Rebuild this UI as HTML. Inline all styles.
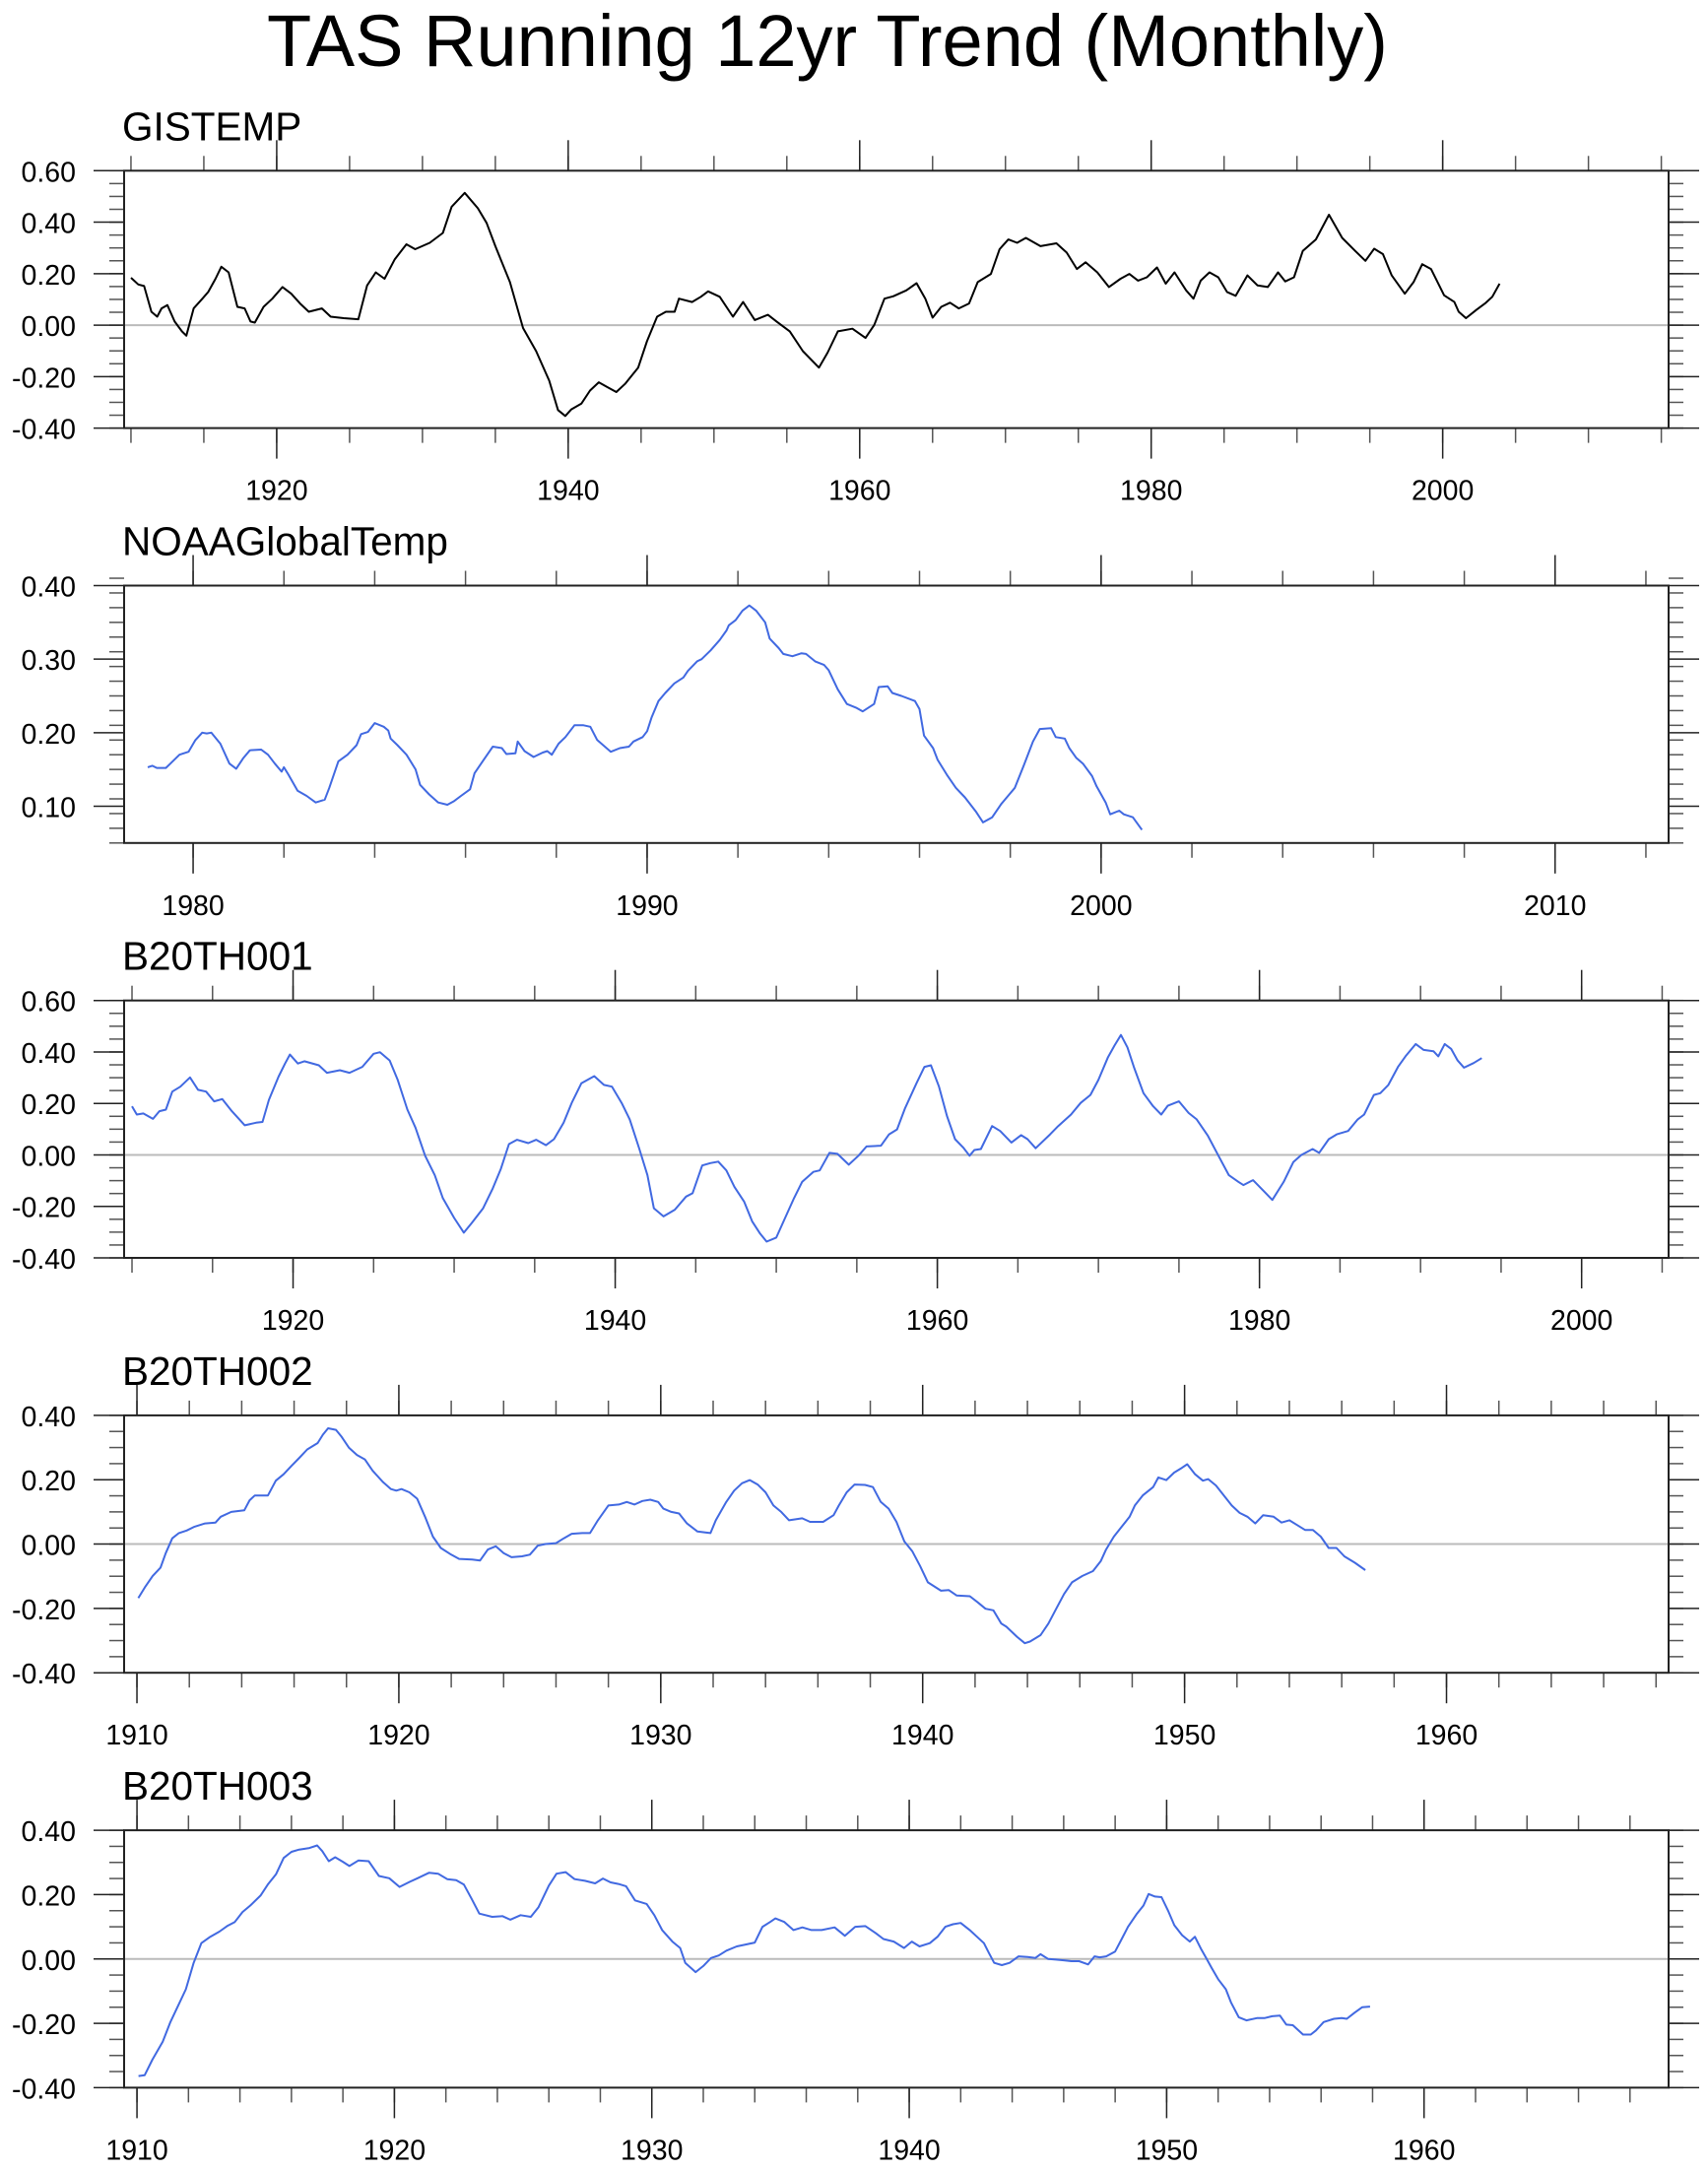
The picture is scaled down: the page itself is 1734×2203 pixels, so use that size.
<!DOCTYPE html>
<html><head><meta charset="utf-8"><title>TAS Running 12yr Trend (Monthly)</title>
<style>
html,body{margin:0;padding:0;background:#fff;}
svg{display:block;font-family:"Liberation Sans",Arial,sans-serif;}
</style></head>
<body>
<svg id="chart" width="1734" height="2203" viewBox="0 0 1734 2203" xmlns="http://www.w3.org/2000/svg">
<text x="840" y="67" font-size="74" text-anchor="middle" fill="#000">TAS Running 12yr Trend (Monthly)</text>
</svg>
<script>
// ---- data ----
const gisYears=[1910.0,1910.5,1910.9,1911.4,1911.8,1912.1,1912.5,1913.0,1913.5,1913.8,1914.3,1914.9,1915.3,1915.8,1916.2,1916.7,1917.3,1917.8,1918.2,1918.5,1919.1,1919.7,1920.4,1921.0,1921.6,1922.2,1923.1,1923.7,1924.6,1925.6,1926.2,1926.8,1927.4,1928.1,1928.9,1929.5,1930.5,1931.4,1932.0,1932.9,1933.8,1934.4,1935.0,1936.0,1936.9,1937.8,1938.7,1939.3,1939.8,1940.2,1940.9,1941.5,1942.1,1942.7,1943.3,1943.9,1944.8,1945.4,1946.1,1946.7,1947.3,1947.6,1948.5,1949.1,1949.6,1950.4,1951.3,1952.0,1952.8,1953.7,1954.3,1955.2,1956.1,1957.2,1957.8,1958.5,1959.5,1960.4,1961.0,1961.7,1962.3,1963.2,1963.9,1964.5,1965.0,1965.6,1966.2,1966.8,1967.5,1968.1,1969.0,1969.6,1970.2,1970.8,1971.4,1972.4,1973.5,1974.2,1974.9,1975.5,1976.3,1977.1,1977.9,1978.5,1979.1,1979.7,1980.4,1981.0,1981.6,1982.4,1982.9,1983.4,1984.0,1984.6,1985.2,1985.8,1986.6,1987.3,1988.0,1988.7,1989.2,1989.8,1990.4,1991.3,1992.2,1993.1,1994.0,1994.7,1995.3,1995.9,1996.5,1997.4,1998.0,1998.6,1999.2,2000.1,2000.8,2001.1,2001.6,2002.3,2002.9,2003.4,2003.9];
const gisVals=[0.184,0.158,0.152,0.052,0.033,0.065,0.078,0.014,-0.024,-0.041,0.065,0.103,0.129,0.18,0.227,0.205,0.071,0.065,0.014,0.01,0.071,0.103,0.148,0.122,0.084,0.052,0.065,0.033,0.027,0.023,0.154,0.205,0.18,0.256,0.314,0.295,0.32,0.358,0.46,0.514,0.454,0.397,0.307,0.167,-0.011,-0.101,-0.216,-0.33,-0.353,-0.328,-0.305,-0.254,-0.222,-0.241,-0.26,-0.228,-0.165,-0.063,0.033,0.052,0.052,0.103,0.09,0.11,0.131,0.11,0.033,0.09,0.02,0.04,0.014,-0.024,-0.101,-0.165,-0.107,-0.024,-0.014,-0.05,0.001,0.103,0.112,0.135,0.163,0.103,0.029,0.071,0.087,0.065,0.084,0.167,0.199,0.295,0.333,0.32,0.339,0.307,0.318,0.282,0.218,0.244,0.205,0.148,0.18,0.199,0.173,0.186,0.224,0.161,0.205,0.135,0.103,0.173,0.205,0.186,0.129,0.114,0.193,0.154,0.148,0.205,0.17,0.186,0.288,0.333,0.429,0.339,0.288,0.25,0.297,0.276,0.193,0.122,0.167,0.237,0.218,0.116,0.09,0.052,0.027,0.059,0.084,0.11,0.161];

const noaaYears=[1979.0,1979.1,1979.2,1979.4,1979.5,1979.7,1979.9,1980.05,1980.2,1980.3,1980.4,1980.6,1980.8,1980.95,1981.1,1981.25,1981.5,1981.65,1981.8,1981.95,1982.0,1982.1,1982.3,1982.5,1982.7,1982.9,1983.0,1983.2,1983.4,1983.6,1983.7,1983.85,1984.0,1984.2,1984.3,1984.35,1984.5,1984.7,1984.9,1985.0,1985.2,1985.4,1985.6,1985.75,1985.9,1986.1,1986.2,1986.4,1986.6,1986.8,1986.9,1987.1,1987.15,1987.3,1987.5,1987.7,1987.8,1987.9,1988.05,1988.2,1988.4,1988.6,1988.75,1988.9,1989.2,1989.4,1989.6,1989.7,1989.9,1990.0,1990.1,1990.25,1990.4,1990.6,1990.8,1990.9,1991.1,1991.2,1991.4,1991.6,1991.75,1991.8,1991.95,1992.1,1992.25,1992.4,1992.6,1992.7,1992.9,1993.0,1993.2,1993.4,1993.5,1993.7,1993.9,1994.0,1994.2,1994.4,1994.6,1994.75,1995.0,1995.1,1995.3,1995.4,1995.6,1995.9,1996.0,1996.1,1996.3,1996.4,1996.6,1996.8,1997.0,1997.25,1997.4,1997.6,1997.8,1997.95,1998.1,1998.3,1998.5,1998.65,1998.9,1999.0,1999.2,1999.3,1999.45,1999.6,1999.8,1999.9,2000.1,2000.2,2000.4,2000.5,2000.7,2000.9];
const noaaVals=[0.153,0.155,0.152,0.152,0.158,0.170,0.174,0.19,0.2,0.199,0.2,0.185,0.158,0.151,0.165,0.176,0.177,0.17,0.158,0.147,0.153,0.143,0.121,0.114,0.105,0.109,0.125,0.161,0.170,0.183,0.198,0.201,0.213,0.208,0.203,0.192,0.183,0.170,0.150,0.129,0.116,0.105,0.102,0.107,0.114,0.123,0.145,0.163,0.181,0.179,0.171,0.172,0.188,0.175,0.167,0.173,0.175,0.170,0.185,0.194,0.210,0.210,0.208,0.190,0.174,0.179,0.181,0.188,0.194,0.202,0.221,0.243,0.254,0.267,0.275,0.284,0.297,0.3,0.312,0.326,0.339,0.346,0.353,0.366,0.373,0.366,0.35,0.328,0.315,0.307,0.304,0.308,0.307,0.297,0.292,0.285,0.259,0.239,0.234,0.229,0.239,0.262,0.263,0.254,0.25,0.243,0.232,0.196,0.179,0.163,0.143,0.125,0.112,0.092,0.078,0.085,0.103,0.114,0.125,0.156,0.188,0.205,0.206,0.194,0.192,0.179,0.166,0.158,0.141,0.127,0.105,0.089,0.094,0.089,0.085,0.068];

const b1Years=[1910.0,1910.3,1910.7,1911.3,1911.7,1912.1,1912.5,1913.0,1913.6,1914.1,1914.6,1915.1,1915.6,1916.2,1917.0,1917.7,1918.1,1918.5,1919.1,1919.5,1919.8,1920.3,1920.7,1921.6,1922.1,1922.9,1923.5,1924.3,1925.0,1925.4,1926.0,1926.5,1927.1,1927.6,1928.2,1928.8,1929.3,1930.0,1930.6,1931.1,1931.8,1932.4,1932.9,1933.4,1933.9,1934.6,1935.1,1935.7,1936.2,1936.8,1937.3,1937.9,1938.7,1939.3,1939.8,1940.4,1940.9,1941.5,1942.0,1942.4,1943.0,1943.7,1944.4,1944.8,1945.4,1945.9,1946.4,1946.9,1947.4,1948.0,1948.5,1949.0,1949.4,1950.0,1950.5,1951.1,1951.6,1952.3,1952.7,1953.3,1953.8,1954.5,1955.1,1955.6,1956.5,1957.0,1957.5,1958.0,1958.7,1959.2,1959.6,1960.1,1960.6,1961.1,1961.6,1962.0,1962.3,1962.7,1963.4,1963.9,1964.6,1965.2,1965.6,1966.1,1967.0,1967.5,1968.3,1968.9,1969.5,1970.0,1970.6,1971.0,1971.4,1971.8,1972.2,1972.8,1973.4,1973.9,1974.3,1975.0,1975.6,1976.1,1976.8,1977.5,1978.1,1978.7,1979.0,1979.6,1980.3,1980.8,1981.5,1982.1,1982.6,1983.3,1983.7,1984.3,1984.8,1985.5,1986.1,1986.5,1987.1,1987.5,1988.0,1988.6,1989.1,1989.7,1990.2,1990.8,1991.1,1991.5,1991.9,1992.3,1992.7,1993.3,1993.8];
const b1Vals=[0.189,0.157,0.161,0.14,0.17,0.176,0.246,0.265,0.301,0.253,0.246,0.208,0.217,0.17,0.115,0.125,0.128,0.214,0.304,0.355,0.39,0.355,0.364,0.348,0.319,0.329,0.319,0.342,0.393,0.399,0.367,0.291,0.176,0.106,-0.003,-0.079,-0.168,-0.245,-0.302,-0.264,-0.207,-0.13,-0.054,0.042,0.059,0.046,0.059,0.038,0.061,0.125,0.202,0.278,0.306,0.272,0.265,0.202,0.138,0.023,-0.079,-0.207,-0.239,-0.213,-0.162,-0.149,-0.041,-0.032,-0.026,-0.06,-0.124,-0.181,-0.258,-0.306,-0.337,-0.321,-0.251,-0.168,-0.105,-0.066,-0.06,0.008,0.004,-0.038,-0.003,0.033,0.036,0.08,0.099,0.182,0.278,0.342,0.348,0.265,0.151,0.061,0.029,-0.003,0.019,0.023,0.112,0.093,0.048,0.077,0.061,0.026,0.08,0.112,0.157,0.202,0.233,0.291,0.38,0.425,0.466,0.418,0.342,0.24,0.189,0.157,0.191,0.208,0.163,0.138,0.074,-0.009,-0.079,-0.105,-0.117,-0.098,-0.143,-0.175,-0.105,-0.028,0,0.023,0.008,0.061,0.08,0.093,0.138,0.157,0.233,0.24,0.272,0.342,0.386,0.431,0.408,0.403,0.383,0.431,0.412,0.367,0.339,0.357,0.376];

const b2Years=[1910.05,1910.3,1910.6,1910.9,1911.1,1911.35,1911.6,1911.9,1912.2,1912.6,1913.0,1913.2,1913.6,1914.1,1914.3,1914.5,1915.0,1915.3,1915.6,1915.9,1916.2,1916.5,1916.9,1917.1,1917.3,1917.6,1917.8,1918.1,1918.4,1918.7,1919.0,1919.4,1919.7,1919.9,1920.1,1920.4,1920.7,1921.0,1921.3,1921.6,1922.0,1922.3,1922.8,1923.1,1923.4,1923.7,1924.0,1924.3,1924.7,1925.0,1925.3,1925.6,1926.0,1926.3,1926.6,1927.0,1927.3,1927.6,1928.0,1928.4,1928.7,1929.0,1929.3,1929.6,1929.9,1930.1,1930.4,1930.7,1931.0,1931.4,1931.7,1931.9,1932.1,1932.5,1932.8,1933.1,1933.4,1933.7,1934.0,1934.3,1934.6,1934.9,1935.4,1935.7,1936.2,1936.6,1936.8,1937.1,1937.4,1937.8,1938.1,1938.4,1938.7,1939.0,1939.3,1939.6,1939.9,1940.2,1940.7,1941.0,1941.3,1941.8,1942.1,1942.4,1942.7,1943.0,1943.2,1943.6,1943.9,1944.1,1944.5,1944.8,1945.1,1945.4,1945.7,1946.1,1946.5,1946.8,1947.0,1947.3,1947.6,1947.9,1948.1,1948.4,1948.8,1949.0,1949.3,1949.6,1949.9,1950.1,1950.4,1950.7,1950.9,1951.2,1951.5,1951.8,1952.1,1952.4,1952.7,1953.0,1953.4,1953.7,1954.0,1954.3,1954.6,1954.9,1955.2,1955.5,1955.8,1956.1,1956.5,1956.9];
const b2Vals=[-0.168,-0.135,-0.099,-0.073,-0.028,0.018,0.034,0.042,0.054,0.064,0.067,0.085,0.1,0.105,0.136,0.151,0.151,0.197,0.217,0.243,0.268,0.294,0.314,0.34,0.36,0.355,0.335,0.299,0.277,0.263,0.228,0.192,0.171,0.166,0.171,0.161,0.141,0.085,0.023,-0.012,-0.033,-0.046,-0.048,-0.051,-0.017,-0.007,-0.028,-0.041,-0.038,-0.033,-0.005,0,0.003,0.018,0.032,0.034,0.034,0.074,0.12,0.123,0.131,0.123,0.134,0.138,0.131,0.11,0.1,0.095,0.064,0.039,0.036,0.034,0.074,0.131,0.166,0.189,0.199,0.185,0.161,0.12,0.1,0.074,0.08,0.069,0.069,0.09,0.12,0.161,0.185,0.184,0.177,0.131,0.11,0.069,0.008,-0.022,-0.068,-0.119,-0.145,-0.143,-0.16,-0.162,-0.181,-0.201,-0.206,-0.247,-0.257,-0.288,-0.308,-0.303,-0.283,-0.247,-0.201,-0.155,-0.119,-0.099,-0.084,-0.053,-0.017,0.023,0.054,0.085,0.12,0.151,0.177,0.207,0.199,0.222,0.237,0.248,0.217,0.197,0.202,0.182,0.151,0.12,0.097,0.085,0.064,0.09,0.085,0.067,0.074,0.059,0.044,0.044,0.023,-0.012,-0.012,-0.038,-0.058,-0.081];

const b3Years=[1910.06,1910.3,1910.6,1911.0,1911.3,1911.6,1911.9,1912.2,1912.5,1912.85,1913.2,1913.5,1913.8,1914.1,1914.4,1914.8,1915.1,1915.4,1915.7,1916.0,1916.3,1916.7,1917.0,1917.2,1917.45,1917.7,1918.0,1918.25,1918.6,1919.0,1919.4,1919.8,1920.2,1920.6,1920.9,1921.35,1921.7,1922.05,1922.4,1922.7,1923.0,1923.3,1923.8,1924.2,1924.5,1924.9,1925.3,1925.6,1926.0,1926.3,1926.65,1927.0,1927.4,1927.8,1928.1,1928.4,1928.7,1929.0,1929.35,1929.8,1930.1,1930.4,1930.8,1931.1,1931.3,1931.7,1932.0,1932.3,1932.6,1932.9,1933.3,1933.6,1934.0,1934.3,1934.6,1934.8,1935.15,1935.5,1935.85,1936.2,1936.6,1937.1,1937.5,1937.9,1938.3,1938.7,1939.0,1939.4,1939.8,1940.1,1940.4,1940.8,1941.1,1941.4,1941.7,1942.0,1942.35,1942.7,1942.9,1943.1,1943.3,1943.6,1943.9,1944.25,1944.6,1944.9,1945.1,1945.4,1945.7,1946.0,1946.3,1946.6,1946.95,1947.2,1947.4,1947.65,1948.0,1948.2,1948.5,1948.85,1949.1,1949.3,1949.55,1949.8,1950.05,1950.3,1950.6,1950.9,1951.1,1951.35,1951.5,1951.75,1952.0,1952.3,1952.5,1952.8,1953.1,1953.5,1953.8,1954.1,1954.4,1954.65,1954.9,1955.3,1955.6,1955.8,1956.1,1956.5,1956.8,1957.0,1957.3,1957.6,1957.9];
const b3Vals=[-0.364,-0.361,-0.313,-0.257,-0.196,-0.145,-0.094,-0.012,0.049,0.069,0.085,0.102,0.115,0.146,0.166,0.197,0.233,0.263,0.314,0.333,0.34,0.345,0.353,0.335,0.304,0.316,0.302,0.289,0.306,0.304,0.258,0.251,0.224,0.24,0.251,0.268,0.265,0.248,0.245,0.231,0.187,0.141,0.131,0.133,0.122,0.136,0.131,0.161,0.228,0.265,0.27,0.248,0.243,0.235,0.25,0.238,0.233,0.226,0.182,0.171,0.136,0.09,0.054,0.034,-0.012,-0.041,-0.022,0.003,0.011,0.026,0.039,0.044,0.051,0.1,0.115,0.126,0.115,0.09,0.098,0.09,0.09,0.098,0.072,0.1,0.102,0.08,0.062,0.054,0.034,0.054,0.039,0.049,0.069,0.1,0.108,0.112,0.09,0.064,0.049,0.018,-0.012,-0.019,-0.012,0.008,0.006,0.003,0.015,0,-0.002,-0.004,-0.007,-0.007,-0.017,0.008,0.005,0.008,0.023,0.054,0.1,0.141,0.166,0.202,0.194,0.192,0.151,0.105,0.074,0.054,0.069,0.029,0.008,-0.028,-0.063,-0.094,-0.135,-0.181,-0.191,-0.184,-0.184,-0.178,-0.176,-0.204,-0.206,-0.235,-0.235,-0.222,-0.196,-0.186,-0.184,-0.186,-0.167,-0.15,-0.148];

// ---- axis ticks / labels ----
const p1XMajor=[1920,1940,1960,1980,2000];
const p2XMajor=[1980,1990,2000,2010];
const p3XMajor=[1920,1940,1960,1980,2000];
const p4XMajor=[1910,1920,1930,1940,1950,1960];
const p5XMajor=[1910,1920,1930,1940,1950,1960];
const wideYTicks=[-0.4,-0.2,0,0.2,0.4,0.6];
const noaaYTicks=[0.1,0.2,0.3,0.4];
const narrowYTicks=[-0.4,-0.2,0,0.2,0.4];
const panelTitles=["GISTEMP","NOAAGlobalTemp","B20TH001","B20TH002","B20TH003"];

const NS="http://www.w3.org/2000/svg";
const svg=document.getElementById('chart');
const L=126,R=1694,H=261.3;
const tops=[173.3,594.5,1015.7,1436.9,1858.1];
const panels=[
 {xmin:1909.53,xmax:2015.5,ymin:-0.4,ymax:0.6,xMaj:p1XMajor,xMinStep:5,xMinStart:1910,yMaj:wideYTicks,yMinStep:0.05,xs:gisYears,ys:gisVals,color:"#000",zero:true},
 {xmin:1978.48,xmax:2012.5,ymin:0.05,ymax:0.4,xMaj:p2XMajor,xMinStep:2,xMinStart:1980,yMaj:noaaYTicks,yMinStep:0.02,xs:noaaYears,ys:noaaVals,color:"#4169e1",zero:false},
 {xmin:1909.51,xmax:2005.4,ymin:-0.4,ymax:0.6,xMaj:p3XMajor,xMinStep:5,xMinStart:1910,yMaj:wideYTicks,yMinStep:0.05,xs:b1Years,ys:b1Vals,color:"#4169e1",zero:true},
 {xmin:1909.51,xmax:1968.48,ymin:-0.4,ymax:0.4,xMaj:p4XMajor,xMinStep:2,xMinStart:1910,yMaj:narrowYTicks,yMinStep:0.05,xs:b2Years,ys:b2Vals,color:"#4169e1",zero:true},
 {xmin:1909.5,xmax:1969.5,ymin:-0.4,ymax:0.4,xMaj:p5XMajor,xMinStep:2,xMinStart:1910,yMaj:narrowYTicks,yMinStep:0.05,xs:b3Years,ys:b3Vals,color:"#4169e1",zero:true}
];
function mk(tag,attrs,parent){const e=document.createElementNS(NS,tag);for(const k in attrs)e.setAttribute(k,attrs[k]);(parent||svg).appendChild(e);return e;}

panels.forEach((p,i)=>{
 const T=tops[i],B=T+H;
 const sx=v=>L+(v-p.xmin)/(p.xmax-p.xmin)*(R-L);
 const sy=v=>B-(v-p.ymin)/(p.ymax-p.ymin)*H;
 const g=mk('g',{});
 
 
 const t=mk('text',{x:124,y:T-31,'font-size':40.5,fill:'#000'},g);
 t.textContent=panelTitles[i];
 
 
 if(p.zero){const z=mk('line',{x1:L,x2:R,y1:sy(0),y2:sy(0),stroke:'#bbb','stroke-width':2},g);
  
  }
 for(let v=p.xMinStart;v<=p.xmax+1e-9;v+=p.xMinStep){
  if(v<p.xmin) continue;
  const x=sx(v);
  const a=mk('line',{x1:x,x2:x,y1:B,y2:B+15,stroke:'#555','stroke-width':1.5},g);
  
  
  const b=mk('line',{x1:x,x2:x,y1:T,y2:T-15,stroke:'#555','stroke-width':1.5},g);
  
  
 }
 p.xMaj.forEach(v=>{
  const x=sx(v);
  const a=mk('line',{x1:x,x2:x,y1:B,y2:B+31,stroke:'#222','stroke-width':1.5},g);
  
  
  const b=mk('line',{x1:x,x2:x,y1:T,y2:T-31,stroke:'#222','stroke-width':1.5},g);
  
  
  const lb=mk('text',{x:x,y:B+73,'font-size':28.5,'text-anchor':'middle',fill:'#000'},g);
  lb.textContent=String(v);
  
  
 });
 const n=Math.round((p.ymax-p.ymin)/p.yMinStep);
 for(let k=0;k<=n;k++){
  const v=p.ymin+k*p.yMinStep;const y=sy(v);
  const a=mk('line',{x1:L,x2:L-15,y1:y,y2:y,stroke:'#555','stroke-width':1.5},g);
  
  
  const b=mk('line',{x1:R,x2:R+15,y1:y,y2:y,stroke:'#555','stroke-width':1.5},g);
  
  
 }
 p.yMaj.forEach(v=>{
  const y=sy(v);
  const a=mk('line',{x1:L,x2:L-31,y1:y,y2:y,stroke:'#222','stroke-width':1.5},g);
  
  
  const b=mk('line',{x1:R,x2:R+31,y1:y,y2:y,stroke:'#222','stroke-width':1.5},g);
  
  
  const lb=mk('text',{x:77,y:y+11,'font-size':28.5,'text-anchor':'end',fill:'#000'},g);
  lb.textContent=v.toFixed(2);
  
  
 });
 const fr=mk('rect',{x:L,y:T,width:R-L,height:H,fill:'none',stroke:'#222','stroke-width':2},g);
 
 
 let d='';
 p.xs.forEach((xv,j)=>{d+=(j?'L':'M')+sx(xv).toFixed(1)+' '+sy(p.ys[j]).toFixed(1);});
 const path=mk('path',{d:d,fill:'none',stroke:p.color,'stroke-width':2,'stroke-linejoin':'round'},g);
 
 
});
</script>
</body></html>
